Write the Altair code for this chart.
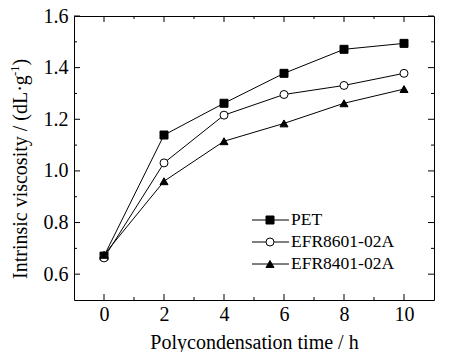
import altair as alt
import pandas as pd

times = [0, 2, 4, 6, 8, 10]
pet = [0.670, 1.139, 1.262, 1.378, 1.471, 1.494]
efr8601 = [0.663, 1.031, 1.216, 1.296, 1.331, 1.378]
efr8401 = [0.675, 0.960, 1.115, 1.184, 1.262, 1.317]
series = ["PET", "EFR8601-02A", "EFR8401-02A"]
shapes = ["square", "circle", "triangle-up"]
fills = ["black", "white", "black"]

x_major = [0, 2, 4, 6, 8, 10]
x_minor = [1, 3, 5, 7, 9]
y_major = [0.6, 0.8, 1.0, 1.2, 1.4, 1.6]
y_minor = [0.7, 0.9, 1.1, 1.3, 1.5]

x_title = "Polycondensation time / h"
y_title_parts = ["Intrinsic viscosity / (dL·g", "-1", ")"]

W, H = 360, 284
FONT = "Liberation Serif"
FS = 20

rows = []
for name, vals in zip(series, [pet, efr8601, efr8401]):
    for t, v in zip(times, vals):
        rows.append({"series": name, "time": t, "iv": v})
df = pd.DataFrame(rows)

xscale = alt.Scale(domain=[-1, 11], nice=False, zero=False)
yscale = alt.Scale(domain=[0.5, 1.6], nice=False, zero=False)
shape_scale = alt.Scale(domain=series, range=shapes)
fill_scale = alt.Scale(domain=series, range=fills)

xaxis = alt.Axis(values=x_major, ticks=False, domain=False, grid=False,
                 labelFont=FONT, labelFontSize=FS, labelColor="black",
                 labelPadding=4, title=x_title,
                 titleFont=FONT, titleFontSize=FS, titleFontWeight="normal",
                 titleColor="black", titlePadding=8)
yaxis = alt.Axis(values=y_major, format=".1f", ticks=False, domain=False, grid=False,
                 labelFont=FONT, labelFontSize=FS, labelColor="black",
                 labelPadding=6, title=None)

base = alt.Chart(df)

lines = base.mark_line(color="black", strokeWidth=1).encode(
    x=alt.X("time:Q", scale=xscale, axis=xaxis),
    y=alt.Y("iv:Q", scale=yscale, axis=yaxis),
    detail="series:N",
)

points = base.mark_point(filled=True, size=64, stroke="black", strokeWidth=1, opacity=1).encode(
    x=alt.X("time:Q", scale=xscale, axis=xaxis),
    y=alt.Y("iv:Q", scale=yscale, axis=yaxis),
    shape=alt.Shape("series:N", scale=shape_scale, legend=None),
    fill=alt.Fill("series:N", scale=fill_scale, legend=None),
)

layers = [lines, points]

# ticks (inward) on all four sides
def xticks(vals, length):
    d = pd.DataFrame({"time": vals})
    bottom = alt.Chart(d).mark_rule(color="black", strokeWidth=1).encode(
        x=alt.X("time:Q", scale=xscale, axis=xaxis), y=alt.value(H), y2=alt.value(H - length))
    top = alt.Chart(d).mark_rule(color="black", strokeWidth=1).encode(
        x=alt.X("time:Q", scale=xscale, axis=xaxis), y=alt.value(0), y2=alt.value(length))
    return [bottom, top]

def yticks(vals, length):
    d = pd.DataFrame({"iv": vals})
    left = alt.Chart(d).mark_rule(color="black", strokeWidth=1).encode(
        y=alt.Y("iv:Q", scale=yscale, axis=yaxis), x=alt.value(0), x2=alt.value(length))
    right = alt.Chart(d).mark_rule(color="black", strokeWidth=1).encode(
        y=alt.Y("iv:Q", scale=yscale, axis=yaxis), x=alt.value(W), x2=alt.value(W - length))
    return [left, right]

layers += xticks(x_major, 6) + xticks(x_minor, 3) + yticks(y_major, 6) + yticks(y_minor, 3)

# y-axis title with superscript (rotated text pieces)
title_pos = [(-47, 263, FS), (-55, 60, 12.5), (-47, 49.5, FS)]
for part, (tx, ty, fs) in zip(y_title_parts, title_pos):
    layers.append(alt.Chart(pd.DataFrame({"txt": [part]})).mark_text(
        align="left", baseline="alphabetic", angle=270, font=FONT, fontSize=fs,
        color="black").encode(x=alt.value(tx), y=alt.value(ty), text="txt:N"))

# manual legend
for i, (name, shp, fl) in enumerate(zip(series, shapes, fills)):
    ly = 204 + 22 * i
    d = pd.DataFrame({"series": [name]})
    layers.append(alt.Chart(d).mark_rule(color="black", strokeWidth=1).encode(
        x=alt.value(178), x2=alt.value(215), y=alt.value(ly)))
    layers.append(alt.Chart(d).mark_point(filled=True, size=64, stroke="black", strokeWidth=1,
                                          opacity=1, shape=shp, fill=fl).encode(
        x=alt.value(196), y=alt.value(ly)))
    layers.append(alt.Chart(d).mark_text(align="left", baseline="middle", font=FONT,
                                         fontSize=17.5, color="black").encode(
        x=alt.value(217), y=alt.value(ly), text="series:N"))

chart = alt.layer(*layers).properties(
    width=W, height=H,
    autosize=alt.AutoSizeParams(type="none"),
    padding={"left": 66, "top": 8, "right": 20, "bottom": 52},
).configure_view(stroke="black", strokeWidth=1)

chart.save("out.html", embed_options={"renderer": "svg", "actions": False})
